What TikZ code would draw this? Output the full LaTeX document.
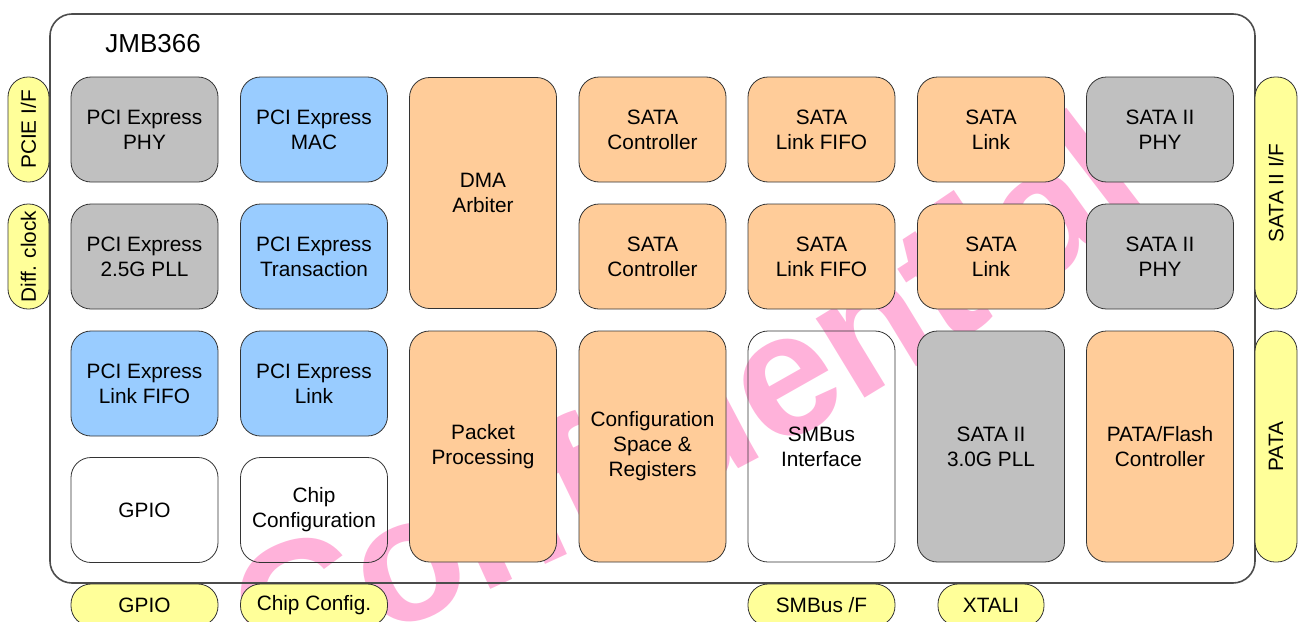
\documentclass[tikz,border=0pt]{standalone}
\usepackage{fontspec}
\setmainfont{Liberation Sans}
\usetikzlibrary{decorations.text}
\definecolor{phygrey}{HTML}{C0C0C0}
\definecolor{pcieblue}{HTML}{99CCFF}
\definecolor{sataorange}{HTML}{FFCC99}
\definecolor{pinyellow}{HTML}{FFFF99}
\definecolor{wmpink}{RGB}{255,178,218}
\tikzset{
	blk/.style={draw=black!80, rounded corners=10pt, minimum width=73.5pt, minimum height=52.5pt,
		align=center, inner sep=0pt, font=\fontsize{10.4}{12.5}\selectfont},
	tallblk/.style={blk, minimum height=115.5pt},
	pin/.style={draw=black!80, fill=pinyellow, rounded corners=10pt, align=center, inner sep=0pt,
		font=\fontsize{10.4}{12.5}\selectfont},
	wmark/.style={decorate, decoration={text along path, text color=wmpink,
		text format delimiters={|}{|}, text={|\fontsize{88}{88}\selectfont\bfseries|Confidential}}},
}
\begin{document}
\begin{tikzpicture}[x=0.5pt, y=-0.5pt]
		\useasboundingbox (0,0) rectangle (1299,621);
		% watermark
		\coordinate (wmstart) at (262,682);
		\coordinate (wmend) at (1200,165);
		\path[wmark] (wmstart) .. controls (547,578) and (920,398) .. (wmend);
		% chip outline
		\node[draw=black!70, line width=0.8pt, rounded corners=11pt, minimum width=602.5pt, minimum height=284.5pt] (chip) at (652.5,298.5) {};
		\node[anchor=west, inner sep=0pt, font=\fontsize{13}{15}\selectfont] (chipname) at (105,44) {JMB366};
		% PCI Express side
		\node[blk, fill=phygrey] (pciephy) at (144.5,129.5) {PCI Express\\PHY};
		\node[blk, fill=phygrey] (pciepll) at (144.5,256.5) {PCI Express\\2.5G PLL};
		\node[blk, fill=pcieblue] (pciefifo) at (144.5,383.5) {PCI Express\\Link FIFO};
		\node[blk] (gpio) at (144.5,510) {GPIO};
		\node[blk, fill=pcieblue] (pciemac) at (314,129.5) {PCI Express\\MAC};
		\node[blk, fill=pcieblue] (pcietrans) at (314,256.5) {PCI Express\\Transaction};
		\node[blk, fill=pcieblue] (pcielink) at (314,383.5) {PCI Express\\Link};
		\node[blk] (chipcfg) at (314,510) {Chip\\Configuration};
		% core
		\node[tallblk, fill=sataorange] (dma) at (483,193) {DMA\\Arbiter};
		\node[tallblk, fill=sataorange] (packet) at (483,446.5) {Packet\\Processing};
		\node[blk, fill=sataorange] (satactrla) at (652.5,129.5) {SATA\\Controller};
		\node[blk, fill=sataorange] (satactrlb) at (652.5,256.5) {SATA\\Controller};
		\node[tallblk, fill=sataorange] (cfgspace) at (652.5,446.5) {Configuration\\Space \&\\Registers};
		\node[blk, fill=sataorange] (satafifoa) at (821.5,129.5) {SATA\\Link FIFO};
		\node[blk, fill=sataorange] (satafifob) at (821.5,256.5) {SATA\\Link FIFO};
		\node[tallblk] (smbus) at (821.5,446.5) {SMBus\\Interface};
		\node[blk, fill=sataorange] (satalinka) at (991,129.5) {SATA\\Link};
		\node[blk, fill=sataorange] (satalinkb) at (991,256.5) {SATA\\Link};
		\node[tallblk, fill=phygrey] (satapll) at (991,446.5) {SATA II\\3.0G PLL};
		\node[blk, fill=phygrey] (sataphya) at (1160,129.5) {SATA II\\PHY};
		\node[blk, fill=phygrey] (sataphyb) at (1160,256.5) {SATA II\\PHY};
		\node[tallblk, fill=sataorange] (pata) at (1160,446.5) {PATA/Flash\\Controller};
		% pins
		\node[pin, rotate=90, minimum width=52.5pt, minimum height=20.5pt] (pciepin) at (28.5,129.5) {PCIE I/F};
		\node[pin, rotate=90, minimum width=52.5pt, minimum height=20.5pt] (clkpin) at (28.5,256.5) {Diff. clock};
		\node[pin, rotate=90, minimum width=116pt, minimum height=21pt] (satapin) at (1276,193) {SATA II I/F};
		\node[pin, rotate=90, minimum width=115.5pt, minimum height=21pt] (patapin) at (1276,446.5) {PATA};
		\node[pin, minimum width=73.5pt, minimum height=21pt] (gpiopin) at (144.5,605) {GPIO};
		\node[pin, minimum width=73.5pt, minimum height=21pt] (cfgpin) at (314,605) {Chip Config.};
		\node[pin, minimum width=73.5pt, minimum height=21pt] (smbuspin) at (821.5,605) {SMBus /F};
		\node[pin, minimum width=53pt, minimum height=21pt] (xtalpin) at (991,605) {XTALI};
\end{tikzpicture}
\end{document}
